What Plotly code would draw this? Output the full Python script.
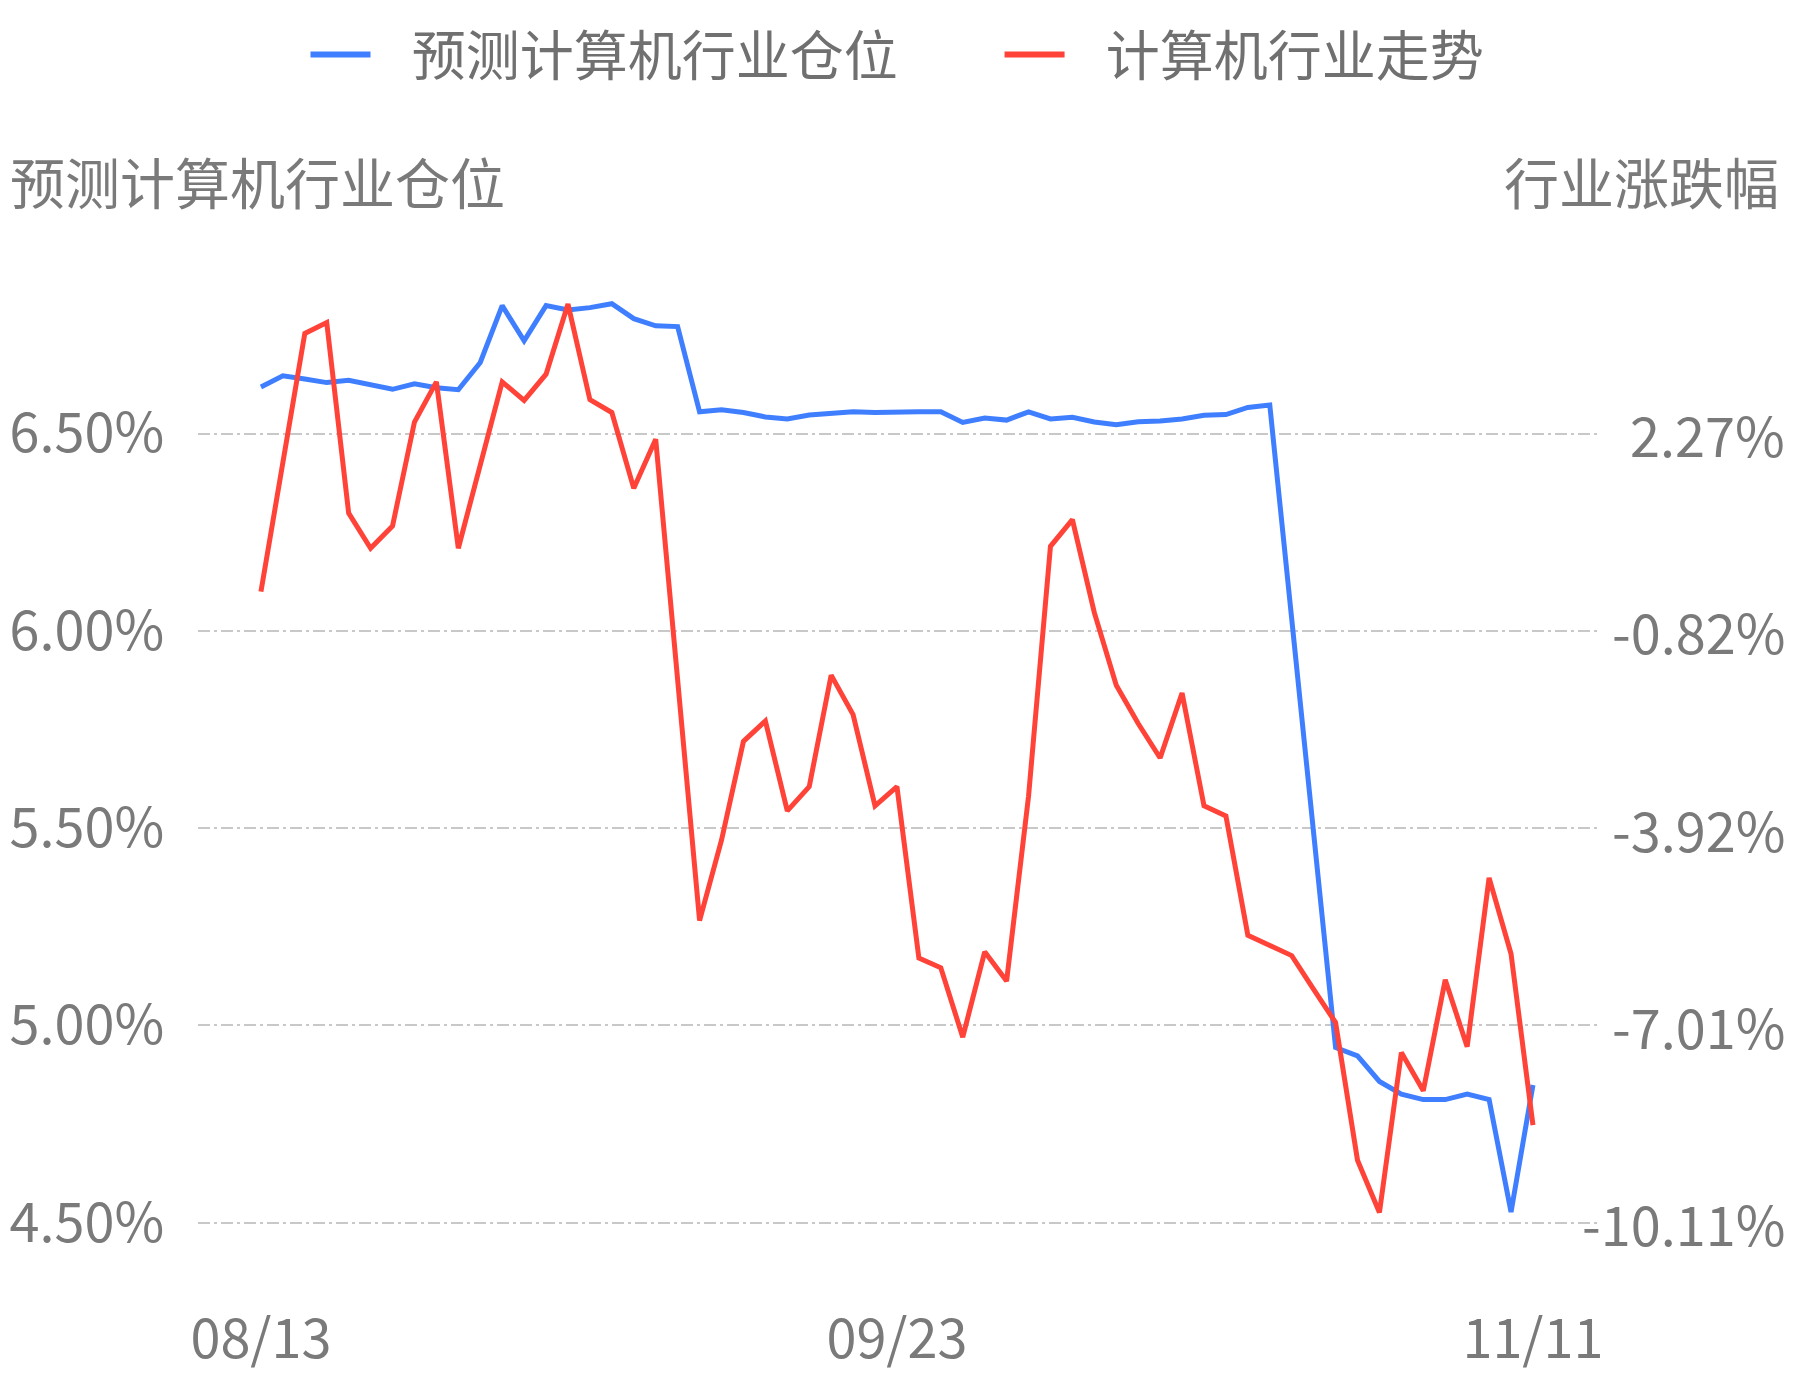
import plotly.graph_objects as go

# ---- data ----
idx = list(range(59))
x_tick_pos = [0, 29, 58]
x_tick_text = ["08/13", "09/23", "11/11"]

position = [6.618, 6.646, 6.638, 6.629, 6.635, 6.624, 6.612, 6.626, 6.616, 6.611,
            6.680, 6.824, 6.735, 6.824, 6.813, 6.819, 6.829, 6.791, 6.773, 6.771,
            6.555, 6.560, 6.553, 6.542, 6.537, 6.547, 6.550, 6.555, 6.553, 6.555,
            6.555, 6.555, 6.528, 6.539, 6.534, 6.555, 6.537, 6.541, 6.529, 6.522,
            6.530, 6.532, 6.537, 6.546, 6.548, 6.566, 6.572, 6.030, 5.479, 4.944,
            4.923, 4.858, 4.826, 4.812, 4.812, 4.826, 4.812, 4.527, 4.849]

trend = [-0.21, 1.82, 3.84, 4.01, 1.02, 0.47, 0.82, 2.45, 3.08, 0.47,
         1.78, 3.08, 2.79, 3.20, 4.30, 2.80, 2.60, 1.41, 2.18, -1.60,
         -5.37, -4.11, -2.56, -2.24, -3.65, -3.27, -1.52, -2.14, -3.57, -3.27,
         -5.96, -6.11, -7.20, -5.86, -6.32, -3.42, 0.50, 0.92, -0.54, -1.68,
         -2.28, -2.82, -1.80, -3.57, -3.73, -5.60, -5.76, -5.92, -6.45, -6.97,
         -9.13, -9.95, -7.44, -8.04, -6.30, -7.35, -4.70, -5.89, -8.58]

left_ticks = [4.5, 5.0, 5.5, 6.0, 6.5]
left_tick_text = ["4.50%", "5.00%", "5.50%", "6.00%", "6.50%"]
right_ticks = [-10.11, -7.01, -3.92, -0.82, 2.27]
right_tick_text = ["-10.11%", "-7.01%", "-3.92%", "-0.82%", "2.27%"]

name_pos = "预测计算机行业仓位"
name_trend = "计算机行业走势"
title_left = "预测计算机行业仓位"
title_right = "行业涨跌幅"

BLUE = "#3f7fff"
RED = "#ff4338"
TXT = "#7a7a7a"
FONT = "Noto Sans CJK SC"
NB = "\u00a0"

# ---- layout geometry ----
W, H = 1793, 1380
ML, MR, MT, MB = 198, 196, 260, 120
PW = W - ML - MR
PH = H - MT - MB

y_range = [4.4055, 6.9397]
scale_r = 6.19
y2_range = [right_ticks[0] + (y_range[0] - left_ticks[0]) * scale_r,
            right_ticks[0] + (y_range[1] - left_ticks[0]) * scale_r]

fig = go.Figure()
fig.add_trace(go.Scatter(x=idx, y=position, mode="lines", name=name_pos,
                         line=dict(color=BLUE, width=5), showlegend=False,
                         yaxis="y"))
fig.add_trace(go.Scatter(x=idx, y=trend, mode="lines", name=name_trend,
                         line=dict(color=RED, width=5), showlegend=False,
                         yaxis="y2"))
# legend entries
fig.add_trace(go.Scatter(x=[None], y=[None], mode="lines",
                         name=NB * 3 + name_pos + NB * 8,
                         line=dict(color=BLUE, width=6)))
fig.add_trace(go.Scatter(x=[None], y=[None], mode="lines",
                         name=NB * 3 + name_trend,
                         line=dict(color=RED, width=6)))

annotations = [
    dict(text=title_left, xref="paper", yref="paper",
         x=(8 - ML) / PW, y=(H - MB - 180) / PH, xanchor="left", yanchor="middle",
         showarrow=False, font=dict(family=FONT, size=55, color=TXT)),
    dict(text=title_right, xref="paper", yref="paper",
         x=(1781 - ML) / PW, y=(H - MB - 180) / PH, xanchor="right", yanchor="middle",
         showarrow=False, font=dict(family=FONT, size=55, color=TXT)),
]
for v, t in zip(right_ticks, right_tick_text):
    annotations.append(dict(text=t, xref="paper", yref="y2", x=(1787 - ML) / PW, y=v,
                            xanchor="right", yanchor="middle", showarrow=False,
                            font=dict(family=FONT, size=54, color=TXT)))

fig.update_layout(
    width=W, height=H,
    margin=dict(l=ML, r=MR, t=MT, b=MB, pad=0, autoexpand=False),
    paper_bgcolor="white", plot_bgcolor="white",
    font=dict(family=FONT, size=54, color=TXT),
    showlegend=True,
    legend=dict(orientation="h", x=0.5, xanchor="center",
                y=(H - MB - 55) / PH, yanchor="middle",
                font=dict(family=FONT, size=54, color="#707070"),
                itemwidth=60, bgcolor="rgba(0,0,0,0)"),
    xaxis=dict(range=[-2.87, 60.92], tickmode="array", tickvals=x_tick_pos,
               ticktext=x_tick_text, showgrid=False, zeroline=False, showline=False,
               ticks="outside", ticklen=32, tickcolor="rgba(0,0,0,0)", automargin=False,
               tickfont=dict(family=FONT, size=54, color=TXT), fixedrange=True),
    yaxis=dict(range=y_range, tickmode="array", tickvals=left_ticks,
               ticktext=left_tick_text, showgrid=True, gridcolor="#c8c8c8",
               gridwidth=2, griddash="12px,4px,3px,4px", zeroline=False,
               showline=False, ticks="outside", ticklen=22, automargin=False,
               tickcolor="rgba(0,0,0,0)",
               tickfont=dict(family=FONT, size=54, color=TXT)),
    yaxis2=dict(range=y2_range, overlaying="y", side="right", showgrid=False,
                zeroline=False, showline=False, showticklabels=False, automargin=False),
    annotations=annotations,
)

fig.write_html("out.html", config={"displayModeBar": False},
               post_script="document.body.style.margin='0';document.body.style.overflow='hidden';")
